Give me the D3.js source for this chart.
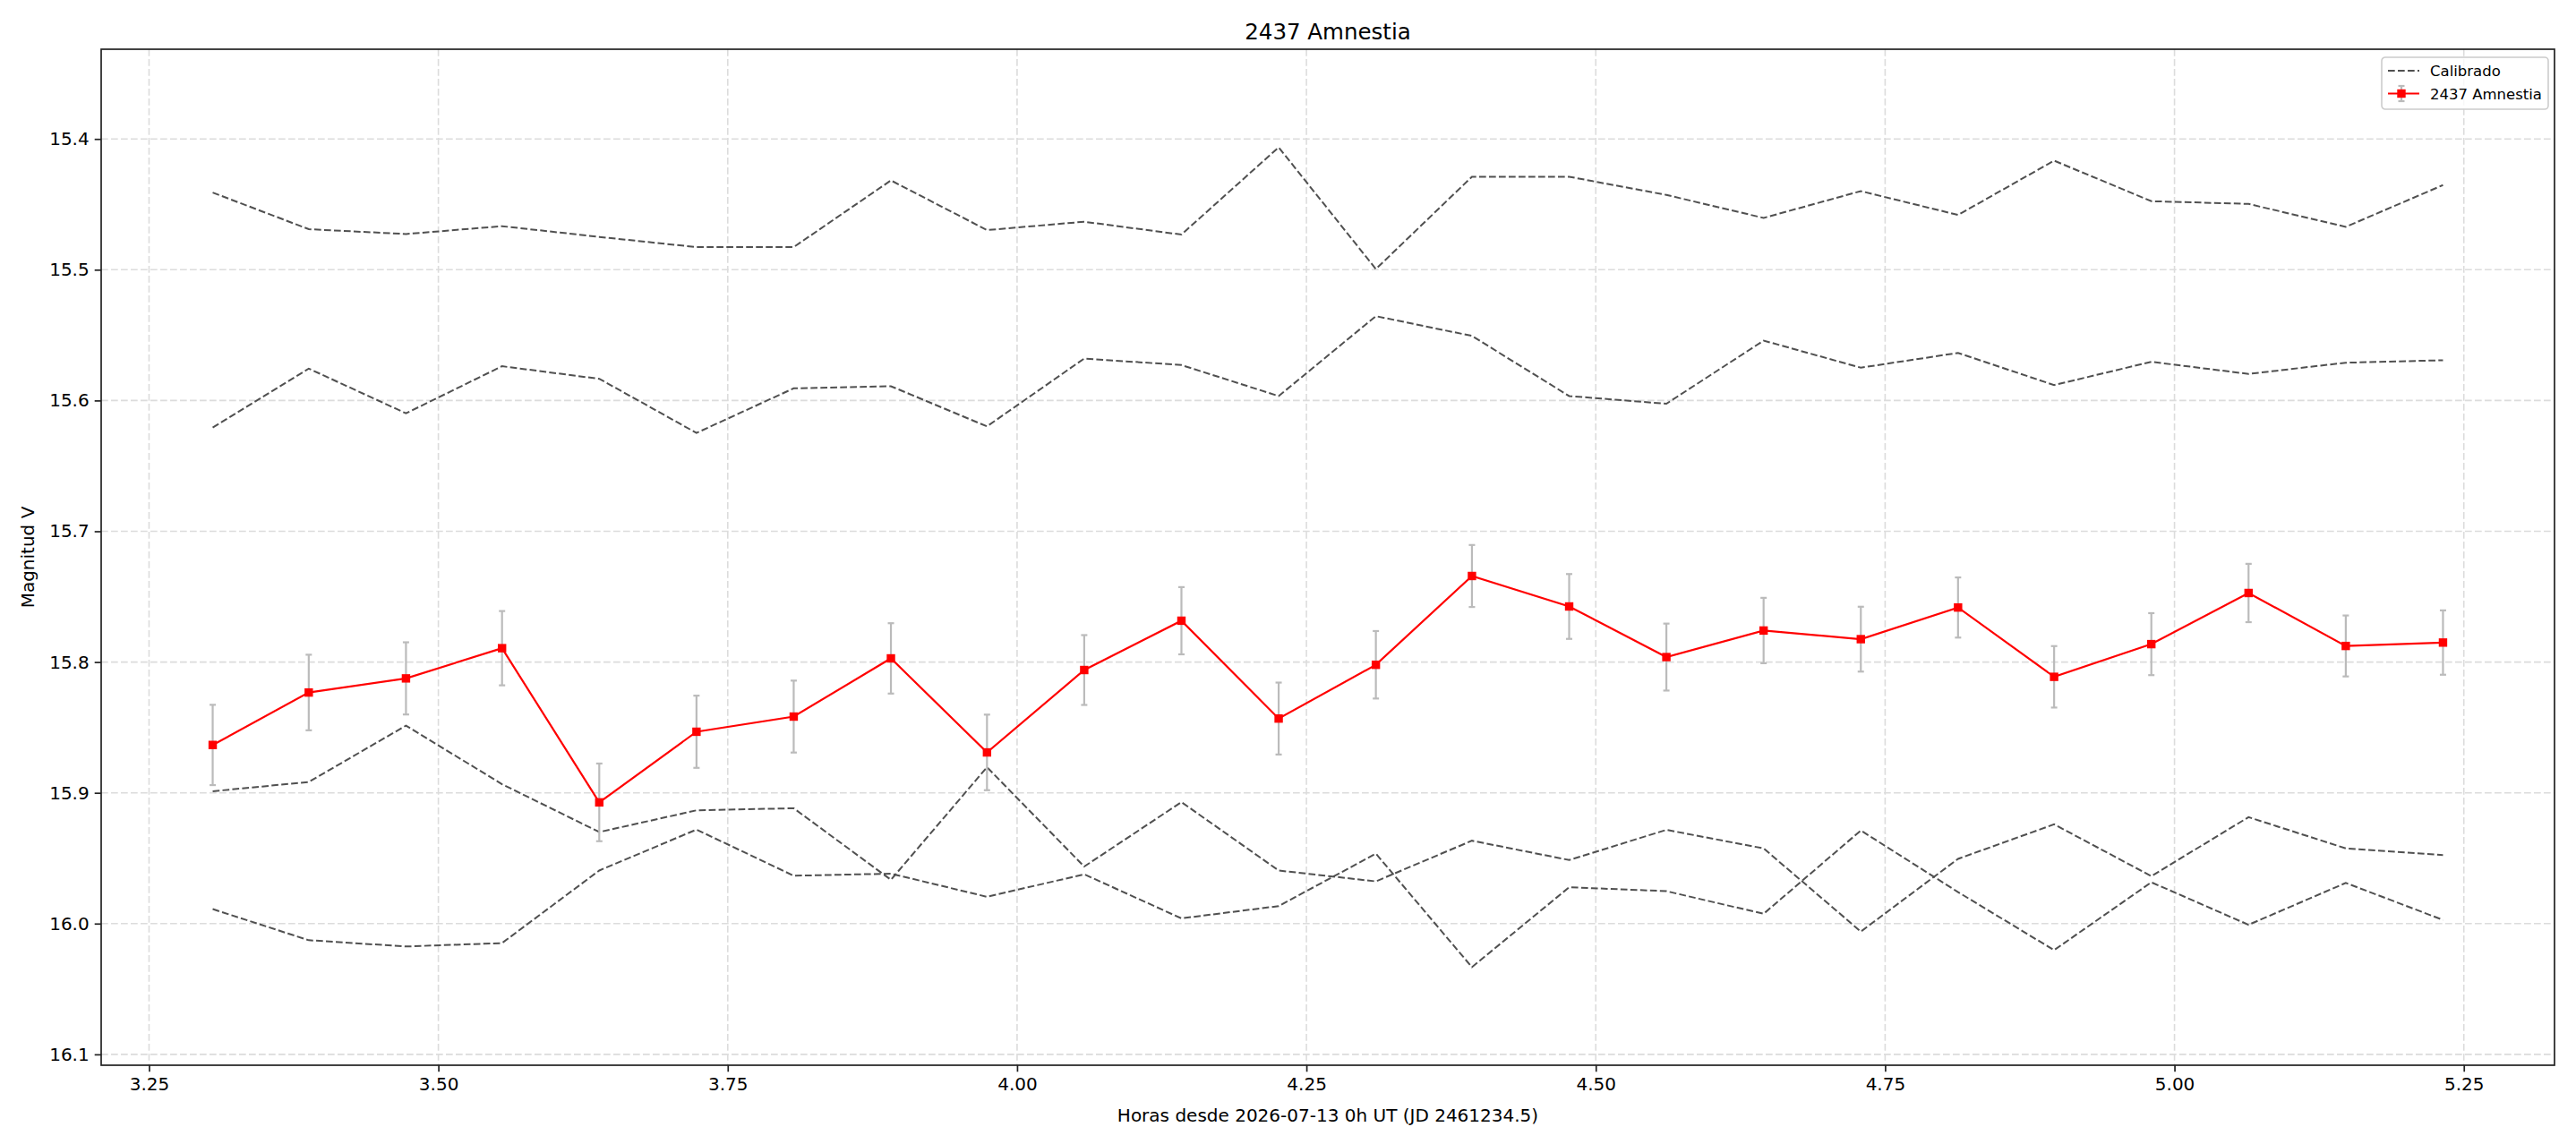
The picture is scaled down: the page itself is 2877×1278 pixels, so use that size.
<!DOCTYPE html>
<html>
<head>
<meta charset="utf-8">
<script src="https://cdn.jsdelivr.net/npm/d3@7"></script>
<style>
  body { margin: 0; background: #fff; }
  text { font-family: "DejaVu Sans", sans-serif; }
</style>
</head>
<body>
<script>
// Observation times (hours since 2026-07-13 0h UT)
var times = [3.305, 3.388, 3.472, 3.555, 3.639, 3.723, 3.807, 3.891, 3.974, 4.058, 4.142, 4.226,
             4.310, 4.393, 4.477, 4.561, 4.645, 4.729, 4.813, 4.896, 4.980, 5.064, 5.148, 5.232];

// Calibrated comparison stars
var calib1 = [15.441, 15.469, 15.4727, 15.4667, 15.4749, 15.4827, 15.4827, 15.4317, 15.4697, 15.4633, 15.4731, 15.4064,
              15.4995, 15.4289, 15.4289, 15.4428, 15.4604, 15.4399, 15.4581, 15.4166, 15.4476, 15.4497, 15.4672, 15.4353];
var calib2 = [15.6207, 15.5756, 15.6098, 15.5738, 15.5834, 15.6248, 15.5907, 15.5891, 15.6198, 15.5679, 15.5729, 15.5966,
              15.5355, 15.5506, 15.5966, 15.6025, 15.5542, 15.5749, 15.5636, 15.5882, 15.5704, 15.5797, 15.5711, 15.5692];
var calib3 = [15.8988, 15.8917, 15.8486, 15.8934, 15.930, 15.9134, 15.9118, 15.9665, 15.8804, 15.9564, 15.9071, 15.9594,
              15.9677, 15.9366, 15.9514, 15.9283, 15.9425, 16.0061, 15.9505, 15.9241, 15.9637, 15.9186, 15.9425, 15.9476];
var calib4 = [15.9889, 16.0127, 16.0175, 16.0149, 15.9594, 15.9281, 15.9634, 15.9618, 15.9795, 15.9623, 15.996, 15.9866,
              15.9465, 16.0333, 15.9722, 15.9752, 15.9925, 15.9288, 15.9759, 16.0203, 15.9684, 16.0009, 15.9689, 15.9972];

// Target: 2437 Amnestia
var target = [15.8634, 15.8233, 15.8125, 15.7894, 15.9073, 15.8533, 15.8417, 15.7972, 15.8691, 15.8061, 15.7684, 15.8432,
              15.8021, 15.7342, 15.7575, 15.7962, 15.7759, 15.7825, 15.7583, 15.8113, 15.7863, 15.7472, 15.7877, 15.7851];
var targetErr = [0.0307, 0.0289, 0.0276, 0.0284, 0.0297, 0.0276, 0.0275, 0.0269, 0.0289, 0.0267, 0.0257, 0.0275,
                 0.0258, 0.0237, 0.0248, 0.0256, 0.025, 0.0248, 0.023, 0.0235, 0.0237, 0.0223, 0.0233, 0.0246];

var xTicks = [3.25, 3.50, 3.75, 4.00, 4.25, 4.50, 4.75, 5.00, 5.25];
var yTicks = [15.4, 15.5, 15.6, 15.7, 15.8, 15.9, 16.0, 16.1];

var title = "2437 Amnestia";
var xLabel = "Horas desde 2026-07-13 0h UT (JD 2461234.5)";
var yLabel = "Magnitud V";

var width = 2877, height = 1278;
// plot area (note: "top" is reserved on window, so use own names)
var plotL = 113, plotR = 2853, plotT = 55, plotB = 1190;

var svg = d3.select("body").append("svg").attr("width", width).attr("height", height)
    .style("background", "#fff");

var tPad = (d3.max(times) - d3.min(times)) * 0.05;
var x = d3.scaleLinear().domain([d3.min(times) - tPad, d3.max(times) + tPad]).range([plotL, plotR]);

var allMags = calib1.concat(calib2, calib3, calib4, target);
var y = d3.scaleLinear().domain([d3.min(allMags) - 0.075, d3.max(allMags) + 0.075]).range([plotT, plotB]);

// grid
var grid = svg.append("g");
grid.selectAll("line.gx").data(xTicks).enter().append("line")
    .attr("x1", d => x(d)).attr("x2", d => x(d)).attr("y1", plotT).attr("y2", plotB)
    .attr("stroke", "#dcdcdc").attr("stroke-width", 1.6).attr("stroke-dasharray", "7.7,3.3");
grid.selectAll("line.gy").data(yTicks).enter().append("line")
    .attr("x1", plotL).attr("x2", plotR).attr("y1", d => y(d)).attr("y2", d => y(d))
    .attr("stroke", "#dcdcdc").attr("stroke-width", 1.6).attr("stroke-dasharray", "7.7,3.3");

// calibration lines
var line = d3.line().x((d, i) => x(times[i])).y(d => y(d));
svg.selectAll("path.calib").data([calib1, calib2, calib3, calib4]).enter().append("path")
    .attr("class", "calib")
    .attr("d", line)
    .attr("fill", "none").attr("stroke", "#505050").attr("stroke-width", 2)
    .attr("stroke-dasharray", "7.7,3.3");

// error bars
var eb = svg.append("g").attr("stroke", "#bbbbbb").attr("stroke-width", 2.2);
target.forEach(function(m, i) {
    var cx = x(times[i]);
    eb.append("line").attr("x1", cx).attr("x2", cx).attr("y1", y(m - targetErr[i])).attr("y2", y(m + targetErr[i]));
    eb.append("line").attr("x1", cx - 3.5).attr("x2", cx + 3.5).attr("y1", y(m - targetErr[i])).attr("y2", y(m - targetErr[i]));
    eb.append("line").attr("x1", cx - 3.5).attr("x2", cx + 3.5).attr("y1", y(m + targetErr[i])).attr("y2", y(m + targetErr[i]));
});

// target line + markers
svg.append("path").datum(target).attr("d", line)
    .attr("fill", "none").attr("stroke", "#ff0000").attr("stroke-width", 2.2);
svg.selectAll("rect.mk").data(target).enter().append("rect")
    .attr("x", (d, i) => x(times[i]) - 4.7).attr("y", d => y(d) - 4.7)
    .attr("width", 9.4).attr("height", 9.4).attr("fill", "#ff0000");

// axes
var xAxis = d3.axisBottom(x).tickValues(xTicks).tickFormat(d3.format(".2f")).tickSize(7.3).tickPadding(6);
var yAxis = d3.axisLeft(y).tickValues(yTicks).tickFormat(d3.format(".1f")).tickSize(7.3).tickPadding(6);

var gx = svg.append("g").attr("transform", "translate(0," + plotB + ")").call(xAxis);
var gy = svg.append("g").attr("transform", "translate(" + plotL + ",0)").call(yAxis);
[gx, gy].forEach(function(g) {
    g.select(".domain").remove();
    g.selectAll(".tick line").attr("stroke", "#222").attr("stroke-width", 1.7);
    g.selectAll(".tick text").attr("font-size", 20).attr("fill", "#000")
        .style("font-family", "'DejaVu Sans', sans-serif");
});

// frame
svg.append("rect").attr("x", plotL).attr("y", plotT).attr("width", plotR - plotL).attr("height", plotB - plotT)
    .attr("fill", "none").attr("stroke", "#222").attr("stroke-width", 1.7);

// labels
svg.append("text").attr("x", (plotL + plotR) / 2).attr("y", 44).attr("text-anchor", "middle")
    .attr("font-size", 24.5).text(title);
svg.append("text").attr("x", (plotL + plotR) / 2).attr("y", 1253).attr("text-anchor", "middle")
    .attr("font-size", 20).text(xLabel);
svg.append("text").attr("transform", "translate(38," + ((plotT + plotB) / 2) + ") rotate(-90)")
    .attr("text-anchor", "middle").attr("font-size", 20).text(yLabel);

// legend
var lg = svg.append("g").attr("transform", "translate(2660,64)");
lg.append("rect").attr("width", 186).attr("height", 58).attr("rx", 4)
    .attr("fill", "#fff").attr("fill-opacity", 0.8).attr("stroke", "#cccccc").attr("stroke-width", 1.6);
lg.append("line").attr("x1", 7).attr("x2", 42).attr("y1", 15).attr("y2", 15)
    .attr("stroke", "#505050").attr("stroke-width", 2).attr("stroke-dasharray", "7.7,3.3");
lg.append("text").attr("x", 54).attr("y", 21).attr("font-size", 16.5).text("Calibrado");
lg.append("line").attr("x1", 22).attr("x2", 22).attr("y1", 32).attr("y2", 49).attr("stroke", "#bbbbbb").attr("stroke-width", 2.2);
lg.append("line").attr("x1", 18.5).attr("x2", 25.5).attr("y1", 32).attr("y2", 32).attr("stroke", "#bbbbbb").attr("stroke-width", 2.2);
lg.append("line").attr("x1", 18.5).attr("x2", 25.5).attr("y1", 49).attr("y2", 49).attr("stroke", "#bbbbbb").attr("stroke-width", 2.2);
lg.append("line").attr("x1", 7).attr("x2", 42).attr("y1", 40.5).attr("y2", 40.5).attr("stroke", "#ff0000").attr("stroke-width", 2.2);
lg.append("rect").attr("x", 17.3).attr("y", 35.8).attr("width", 9.4).attr("height", 9.4).attr("fill", "#ff0000");
lg.append("text").attr("x", 54).attr("y", 46.5).attr("font-size", 16.5).text(title);
</script>
</body>
</html>
